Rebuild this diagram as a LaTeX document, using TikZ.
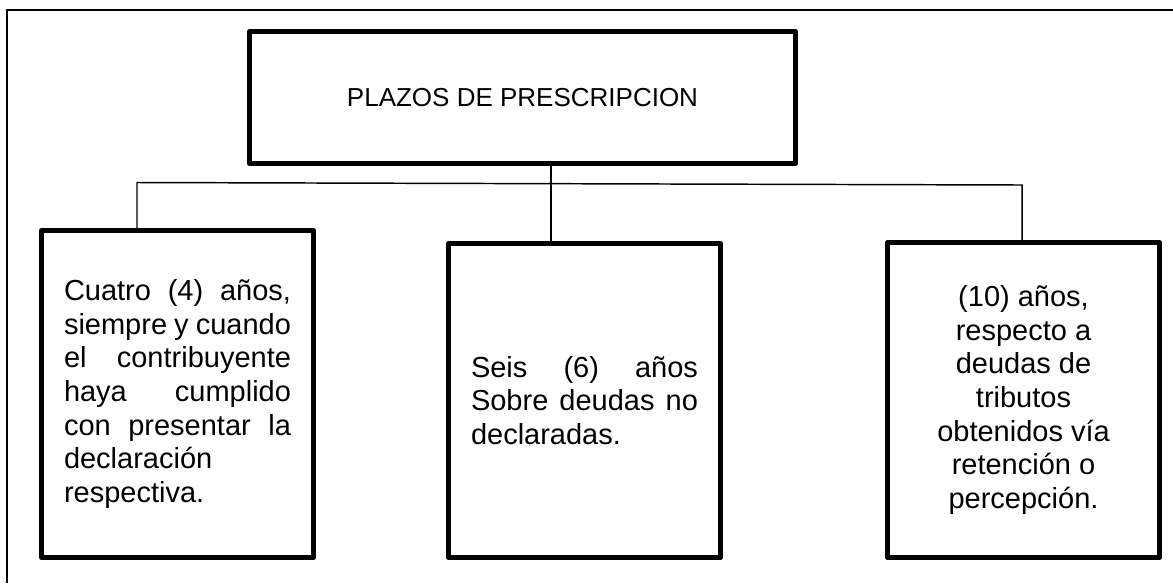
\documentclass[tikz,border=0pt]{standalone}
\usepackage{fontspec}
\setmainfont{Liberation Sans}
\begin{document}
\begin{tikzpicture}[x=0.75pt,y=-0.75pt,
  box/.style={draw, line width=3.75pt, line join=round, inner sep=0pt, minimum width=204pt},
  body/.style={font=\fontsize{21.75pt}{25.2pt}\selectfont},
  conn/.style={line width=1.1pt},
  frame/.style={line width=1.5pt}]
\useasboundingbox (0,0) rectangle (1173,583);
\draw[frame] (7,583) -- (7,10) -- (1173,10);

\node[box, minimum width=409.5pt, minimum height=99pt, font=\fontsize{19.5pt}{23pt}\selectfont] (top) at (522.5,97.5) {PLAZOS DE PRESCRIPCION};

\node[box, body, minimum height=245.25pt, align=left] (lbox) at (177.5,394) {%
\makebox[170.25pt][s]{Cuatro (4) años,}\\
\makebox[170.25pt][s]{siempre y cuando}\\
\makebox[170.25pt][s]{el contribuyente}\\
\makebox[170.25pt][s]{haya cumplido}\\
\makebox[170.25pt][s]{con presentar la}\\
\makebox[170.25pt][l]{declaración}\\
respectiva.};

\node[box, body, minimum height=235.5pt, align=left] (mbox) at (584.5,400.5) {%
\makebox[170.25pt][s]{Seis (6) años}\\
\makebox[170.25pt][s]{Sobre deudas no}\\
\makebox[170.25pt][l]{declaradas.}};

\node[box, body, minimum height=236.25pt, align=center] (rbox) at (1023.5,400) {%
(10) años,\\ respecto a\\ deudas de\\ tributos\\ obtenidos vía\\ retención o\\ percepción.};

\coordinate (hl) at (137,182.5);
\coordinate (hr) at (1022,185);
\coordinate (vj) at (551,183.6);
\draw[conn] (lbox.north -| hl) -- (hl) -- (hr) -- (hr |- rbox.north);
\draw[conn] (top.south -| vj) -- (mbox.north -| vj);
\end{tikzpicture}
\end{document}
